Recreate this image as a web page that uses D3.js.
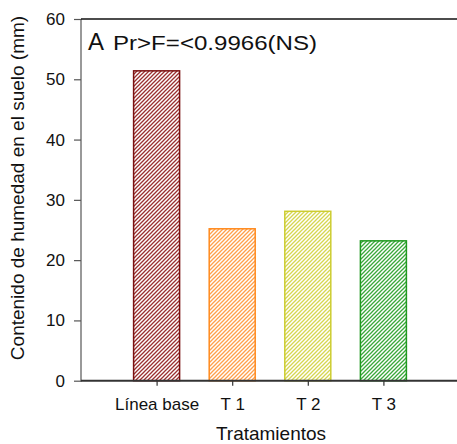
<!DOCTYPE html>
<html>
<head>
<meta charset="utf-8">
<script src="https://cdn.jsdelivr.net/npm/d3@7"></script>
<style>
  html, body { margin: 0; padding: 0; background: #fff; }
  svg { display: block; }
  text { font-family: "Liberation Sans", Arial, sans-serif; fill: #111; }
</style>
</head>
<body>
<svg id="chart" width="457" height="444"></svg>
<script>
// Soil moisture content per treatment (mm)
const categories = ["Línea base", "T 1", "T 2", "T 3"];
const values = [51.4, 25.2, 28.1, 23.2];
const strokeColors = ["#7a1010", "#ff8a1e", "#cccc30", "#1f9a1f"];
const hatchColors = ["#9a3030", "#ffa04a", "#d6d650", "#3aa83a"];
const yTicks = [0, 10, 20, 30, 40, 50, 60];

const svg = d3.select("#chart");
const plotLeft = 81, plotTop = 19, plotRight = 459, plotBottom = 380.7;

const x = d3.scalePoint().domain(categories).range([plotLeft, plotRight]).padding(1);
const y = d3.scaleLinear().domain([0, 60]).range([plotBottom, plotTop]);
const barW = 46;

// Diagonal hatch patterns, one per bar colour
const defs = svg.append("defs");
categories.forEach((c, i) => {
  const p = defs.append("pattern")
    .attr("id", "hatch" + i)
    .attr("patternUnits", "userSpaceOnUse")
    .attr("width", 4).attr("height", 4);
  p.append("rect").attr("width", 4).attr("height", 4).attr("fill", "#fff");
  p.append("path")
    .attr("d", "M-1,1 l2,-2 M0,4 l4,-4 M3,5 l2,-2")
    .attr("stroke", hatchColors[i])
    .attr("stroke-width", 1.3);
});

// Bars
svg.append("g").selectAll("rect")
  .data(categories)
  .join("rect")
  .attr("x", (d) => x(d) - barW / 2)
  .attr("y", (d, i) => y(values[i]))
  .attr("width", barW)
  .attr("height", (d, i) => y(0) - y(values[i]))
  .attr("fill", (d, i) => `url(#hatch${i})`)
  .attr("stroke", (d, i) => strokeColors[i])
  .attr("stroke-width", 1.5);

// Y axis
const yAxis = svg.append("g")
  .attr("transform", `translate(${plotLeft},0)`)
  .call(d3.axisLeft(y).tickValues(yTicks).tickSize(7).tickPadding(9));
yAxis.select(".domain").attr("stroke", "#777").attr("stroke-width", 1.5)
  .attr("d", `M0,${plotTop}V${plotBottom + 1}`);
yAxis.selectAll(".tick line").attr("stroke", "#555").attr("stroke-width", 1.2);
yAxis.selectAll(".tick text")
  .style("font-size", "17px")
  .style("font-family", "'Liberation Sans', Arial, sans-serif")
  .attr("fill", "#111");

// X axis
const xAxis = svg.append("g")
  .attr("transform", `translate(0,${plotBottom})`)
  .call(d3.axisBottom(x).tickSize(5).tickPadding(12));
xAxis.select(".domain").attr("stroke", "#333").attr("stroke-width", 2)
  .attr("d", `M${plotLeft},0H457`);
xAxis.selectAll(".tick line").attr("stroke", "#333").attr("stroke-width", 1.2);
xAxis.selectAll(".tick text")
  .style("font-size", "17px")
  .style("font-family", "'Liberation Sans', Arial, sans-serif")
  .attr("fill", "#111");

// Top frame line
svg.append("line")
  .attr("x1", plotLeft).attr("x2", 457)
  .attr("y1", plotTop).attr("y2", plotTop)
  .attr("stroke", "#111").attr("stroke-width", 1.5);

// Axis titles
svg.append("text")
  .attr("x", 271).attr("y", 440)
  .attr("text-anchor", "middle")
  .style("font-size", "19px")
  .text("Tratamientos");

svg.append("text")
  .attr("transform", "translate(24,188) rotate(-90)")
  .attr("text-anchor", "middle")
  .style("font-size", "19px")
  .text("Contenido de humedad en el suelo (mm)");

// Panel annotation
svg.append("text")
  .attr("x", 88).attr("y", 50)
  .style("font-size", "24px")
  .text("A");
svg.append("text")
  .attr("x", 113).attr("y", 50)
  .style("font-size", "20px")
  .attr("textLength", 204)
  .attr("lengthAdjust", "spacingAndGlyphs")
  .text("Pr>F=<0.9966(NS)");
</script>
</body>
</html>
